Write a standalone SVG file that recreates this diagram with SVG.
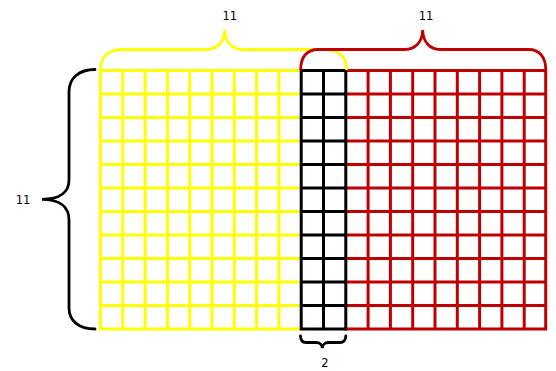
<svg xmlns="http://www.w3.org/2000/svg" width="556" height="371" viewBox="0 0 556 371">
<style>
.g{fill:none;stroke-width:3;stroke-linecap:square}
.b{fill:none;stroke-width:2.8;stroke-linecap:round}
.y{stroke:#ffff00}
.r{stroke:#c00000}
.k{stroke:#000000}
.t{font-family:"DejaVu Sans",sans-serif;font-size:11.5px;fill:#000;text-anchor:middle}
</style>
<rect width="556" height="371" fill="#ffffff"/>
<g id="yellow-grid">
<path class="g y" d="M100.5,70.5V329 M122.8,70.5V329 M145.1,70.5V329 M167.4,70.5V329 M189.7,70.5V329 M212,70.5V329 M234.3,70.5V329 M256.6,70.5V329 M278.9,70.5V329 M100.5,70.5H301 M100.5,94H301 M100.5,117.5H301 M100.5,141H301 M100.5,164.5H301 M100.5,188H301 M100.5,211.5H301 M100.5,235H301 M100.5,258.5H301 M100.5,282H301 M100.5,305.5H301 M100.5,329H301"/>
</g>
<g id="red-grid">
<path class="g r" d="M368.1,70.5V329 M390.4,70.5V329 M412.7,70.5V329 M435,70.5V329 M457.3,70.5V329 M479.6,70.5V329 M501.9,70.5V329 M524.2,70.5V329 M545.7,70.5V329 M345.8,70.5H545.7 M345.8,94H545.7 M345.8,117.5H545.7 M345.8,141H545.7 M345.8,164.5H545.7 M345.8,188H545.7 M345.8,211.5H545.7 M345.8,235H545.7 M345.8,258.5H545.7 M345.8,282H545.7 M345.8,305.5H545.7 M345.8,329H545.7"/>
</g>
<g id="overlap-grid">
<path class="g k" d="M301.2,70.5V329 M323.5,70.5V329 M345.8,70.5V329 M301.2,70.5H345.8 M301.2,94H345.8 M301.2,117.5H345.8 M301.2,141H345.8 M301.2,164.5H345.8 M301.2,188H345.8 M301.2,211.5H345.8 M301.2,235H345.8 M301.2,258.5H345.8 M301.2,282H345.8 M301.2,305.5H345.8 M301.2,329H345.8"/>
</g>
<g id="connectors">
<path id="brace-yellow" class="b y" d="M100.7,69 C100.7,57 108,49.5 123,49.5 L206,49.5 C217,49.5 224.5,42 224.7,30 C225,42 232,49.5 243,49.5 L324,49.5 C339,49.5 346.5,57 346.5,69"/>
<path id="brace-red" class="b r" d="M300.7,69 C300.7,57 307,49.5 318,49.5 L405,49.5 C415,49.5 422.5,42 422.7,30 C423,42 430,49.5 440,49.5 L529,49.5 C539,49.5 545.7,57 545.7,69"/>
<path id="brace-left" class="b k" d="M95,69.5 C79,69.5 69,78 69,92 L69,180 C69,192 60,199.3 42,199.3 C60,199.3 69,207 69,220 L69,308 C69,321 79,329 95,329"/>
<path id="brace-bottom" class="b k" d="M300.5,336 C300.5,340 302.5,342.5 306,342.5 L316,342.5 C320,342.5 322.3,345 322.3,348.3 C322.3,345 324.8,342.5 328.5,342.5 L340,342.5 C343.5,342.5 345.8,340 345.8,336"/>
</g>
<g id="labels">
<text class="t" x="229.7" y="20">11</text>
<text class="t" x="426" y="20">11</text>
<text class="t" x="23" y="204">11</text>
<text class="t" x="325" y="367">2</text>
</g>
</svg>
